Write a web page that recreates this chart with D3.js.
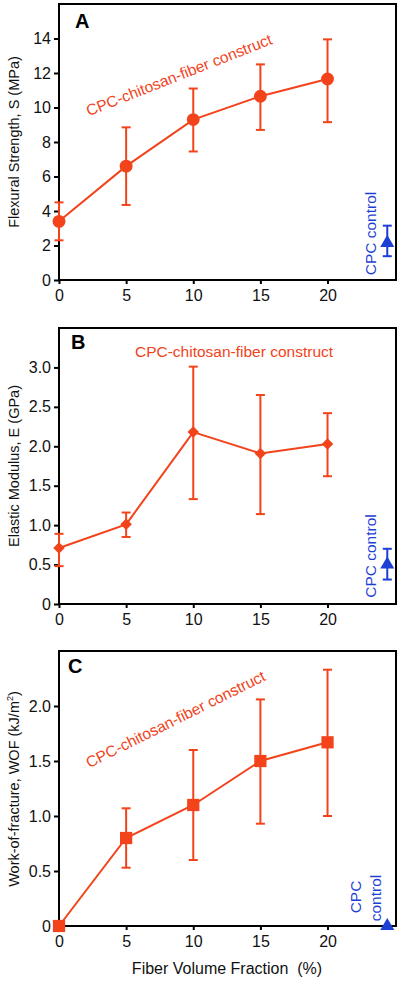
<!DOCTYPE html>
<html>
<head>
<meta charset="utf-8">
<script src="https://cdn.jsdelivr.net/npm/d3@7"></script>
<style>
html,body{margin:0;padding:0;background:#fff;}
svg{display:block;font-family:"Liberation Sans",Arial,sans-serif;}
</style>
</head>
<body>
<svg id="chart" width="400" height="981"></svg>
<script>
// ---- data ----
const fiberFractions = [0, 5, 10, 15, 20];
const xTicks = [0, 5, 10, 15, 20];
const controlX = 24.45;

const strengthMean = [3.4, 6.6, 9.3, 10.65, 11.65];
const strengthLow  = [2.3, 4.35, 7.45, 8.7, 9.15];
const strengthHigh = [4.5, 8.85, 11.1, 12.5, 13.95];
const strengthControl = [2.15, 1.38, 3.15]; // mean, low, high
const strengthTicks = [0, 2, 4, 6, 8, 10, 12, 14];

const modulusMean = [0.71, 1.01, 2.18, 1.91, 2.03];
const modulusLow  = [0.48, 0.85, 1.33, 1.14, 1.62];
const modulusHigh = [0.89, 1.16, 3.01, 2.65, 2.42];
const modulusControl = [0.5, 0.31, 0.70];
const modulusTicks = [0, 0.5, 1.0, 1.5, 2.0, 2.5, 3.0];

const wofMean = [0, 0.80, 1.10, 1.50, 1.67];
const wofLow  = [null, 0.53, 0.60, 0.93, 1.00];
const wofHigh = [null, 1.07, 1.60, 2.06, 2.33];
const wofControl = [0, null, null];
const wofTicks = [0, 0.5, 1.0, 1.5, 2.0];

const seriesName = "CPC-chitosan-fiber construct";
const xLabel = "Fiber Volume Fraction  (%)";

// ---- layout ----
const RED = "#f2431b", BLUE = "#1d3fd4";
const svg = d3.select("#chart");
const x = d3.scaleLinear().domain([0, 25.1]).range([59, 396]);

const panels = [
  {letter:"A", top:4, bottom:280, ymax:16, ticks:strengthTicks, fmt:d=>d3.format("d")(d),
   mean:strengthMean, low:strengthLow, high:strengthHigh, ctrl:strengthControl,
   symbol:d3.symbolCircle, size:130, rotate:0,
   ylabel:"Flexural Strength, S (MPa)", letterPos:[75,28],
   ann:{x:181, y:80, angle:-21.5}, ctrlText:[{t:"CPC control", x:376, y:233.5}]},
  {letter:"B", top:328, bottom:604, ymax:3.5, ticks:modulusTicks, fmt:d=>d===0?"0":d3.format(".1f")(d),
   mean:modulusMean, low:modulusLow, high:modulusHigh, ctrl:modulusControl,
   symbol:d3.symbolSquare, size:66, rotate:45,
   ylabel:"Elastic Modulus, E (GPa)", letterPos:[71,349],
   ann:{x:234, y:357, angle:0}, ctrlText:[{t:"CPC control", x:376, y:556}]},
  {letter:"C", top:651, bottom:926, ymax:2.5, ticks:wofTicks, fmt:d=>d===0?"0":d3.format(".1f")(d),
   mean:wofMean, low:wofLow, high:wofHigh, ctrl:wofControl,
   symbol:d3.symbolSquare, size:150, rotate:0,
   ylabel:"WOF", letterPos:[68,673],
   ann:{x:178, y:724, angle:-26.5}, ctrlText:[{t:"CPC", x:361, y:897},{t:"control", x:381, y:898}]}
];

panels.forEach((p, pi) => {
  const y = d3.scaleLinear().domain([0, p.ymax]).range([p.bottom, p.top]);
  const g = svg.append("g");

  // y axis
  const ya = g.append("g").attr("transform", `translate(${x(0)},0)`)
    .call(d3.axisLeft(y).tickValues(p.ticks).tickFormat(p.fmt).tickSize(5).tickPadding(3));
  ya.select(".domain").remove();
  ya.selectAll("line").attr("stroke", "#000").attr("stroke-width", 2);
  ya.selectAll("text").attr("font-size", 16).attr("fill", "#111");

  // x axis
  const xa = g.append("g").attr("transform", `translate(0,${p.bottom})`)
    .call(d3.axisBottom(x).tickValues(xTicks).tickFormat(d3.format("d")).tickSize(4).tickPadding(6));
  xa.select(".domain").remove();
  xa.selectAll("line").attr("stroke", "#000").attr("stroke-width", 2);
  xa.selectAll("text").attr("font-size", 16).attr("fill", "#111");

  // frame
  g.append("rect").attr("x", x(0)).attr("y", p.top)
    .attr("width", x(25.1) - x(0)).attr("height", p.bottom - p.top)
    .attr("fill", "none").attr("stroke", "#000").attr("stroke-width", 2);

  // panel letter
  g.append("text").attr("x", p.letterPos[0]).attr("y", p.letterPos[1])
    .attr("font-size", 20).attr("font-weight", "bold").text(p.letter);

  // y label
  const yl = g.append("text")
    .attr("transform", `translate(19,${(p.top + p.bottom) / 2}) rotate(-90)`)
    .attr("text-anchor", "middle").attr("font-size", 14.5).attr("fill", "#111");
  if (pi === 2) {
    yl.attr("transform", `translate(19,789) rotate(-90)`);
    yl.append("tspan").text("Work-of-fracture, WOF (kJ/m");
    yl.append("tspan").attr("font-size", 9).attr("dy", -6).text("2");
    yl.append("tspan").attr("dy", 6).text(")");
  } else {
    yl.text(p.ylabel);
  }

  // data
  const pts = fiberFractions.map((f, i) => ({x: f, m: p.mean[i], lo: p.low[i], hi: p.high[i]}));
  const eb = g.append("g").attr("stroke", RED).attr("stroke-width", 2);
  pts.filter(d => d.lo != null).forEach(d => {
    eb.append("line").attr("x1", x(d.x)).attr("x2", x(d.x)).attr("y1", y(d.lo)).attr("y2", y(d.hi));
    eb.append("line").attr("x1", x(d.x) - 4.5).attr("x2", x(d.x) + 4.5).attr("y1", y(d.lo)).attr("y2", y(d.lo));
    eb.append("line").attr("x1", x(d.x) - 4.5).attr("x2", x(d.x) + 4.5).attr("y1", y(d.hi)).attr("y2", y(d.hi));
  });
  g.append("path").datum(pts)
    .attr("d", d3.line().x(d => x(d.x)).y(d => y(d.m)))
    .attr("fill", "none").attr("stroke", RED).attr("stroke-width", 2);
  g.selectAll(".mk").data(pts).join("path")
    .attr("transform", d => `translate(${x(d.x)},${y(d.m)}) rotate(${p.rotate})`)
    .attr("d", d3.symbol().type(p.symbol).size(p.size))
    .attr("fill", RED);

  // control
  const c = p.ctrl;
  if (c[1] != null) {
    const cg = g.append("g").attr("stroke", BLUE).attr("stroke-width", 2);
    cg.append("line").attr("x1", x(controlX)).attr("x2", x(controlX)).attr("y1", y(c[1])).attr("y2", y(c[2]));
    cg.append("line").attr("x1", x(controlX) - 4.5).attr("x2", x(controlX) + 4.5).attr("y1", y(c[1])).attr("y2", y(c[1]));
    cg.append("line").attr("x1", x(controlX) - 4.5).attr("x2", x(controlX) + 4.5).attr("y1", y(c[2])).attr("y2", y(c[2]));
  }
  g.append("path")
    .attr("transform", `translate(${x(controlX)},${y(c[0])})`)
    .attr("d", d3.symbol().type(d3.symbolTriangle).size(85))
    .attr("fill", BLUE);
  p.ctrlText.forEach(t => {
    g.append("text").attr("transform", `translate(${t.x},${t.y}) rotate(-90)`)
      .attr("text-anchor", "middle").attr("font-size", 15.5).attr("fill", BLUE).text(t.t);
  });

  // annotation
  g.append("text").attr("transform", `translate(${p.ann.x},${p.ann.y}) rotate(${p.ann.angle})`)
    .attr("text-anchor", "middle").attr("font-size", 15.5).attr("fill", RED).text(seriesName);
});

// x axis label
svg.append("text").attr("x", 227).attr("y", 974).attr("text-anchor", "middle")
  .style("white-space", "pre")
  .attr("font-size", 16).attr("fill", "#111").text(xLabel);
</script>
</body>
</html>
